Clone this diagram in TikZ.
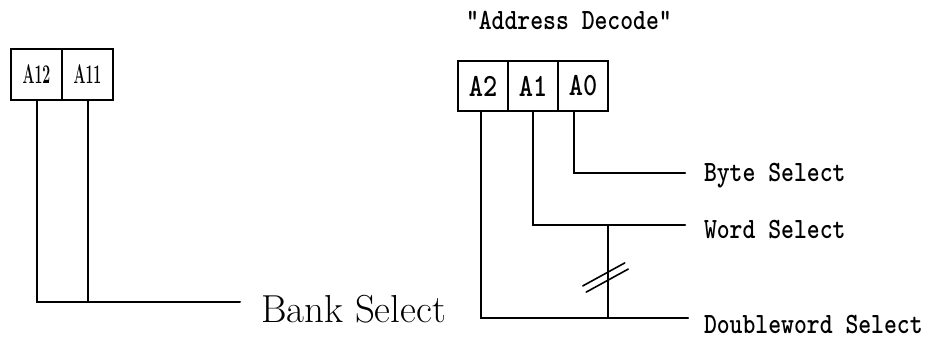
\documentclass[tikz,border=0pt]{standalone}
\usepackage{tikz}
\usetikzlibrary{positioning}
\newcommand\tallmono[1]{\scalebox{1}[1.2]{#1}}

\begin{document}
\begin{tikzpicture}[x=1pt,y=-1pt,line width=2pt,line cap=round,
  bitbox/.style={draw,outer sep=0pt,inner sep=0pt,minimum width=#1,minimum height=#1},
  oldbit/.style={bitbox=51pt,font=\fontsize{27}{27}\selectfont\bfseries},
  newbit/.style={bitbox=50pt,font=\fontsize{27}{27}\selectfont\ttfamily\bfseries},
  sig/.style={anchor=base west,inner sep=0pt,font=\fontsize{24.5}{24.5}\selectfont\ttfamily\bfseries}]
\useasboundingbox (0,0) rectangle (933,339);
\node[oldbit] (a12) at (36.5,74.5) {\scalebox{0.52}[1]{A12}};
\node[oldbit,right=0pt of a12] (a11) {\scalebox{0.52}[1]{A11}};
\coordinate (bankend) at (240,302);
\node[anchor=base west,inner sep=0pt,font=\fontsize{39}{39}\selectfont] (bank) at (260,322) {Bank Select};
\draw (a12.south) |- (bankend);
\draw (a11.south) -- (a11.south |- bankend);
\node[sig] (title) at (465,30) {\tallmono{"Address Decode"}};
\node[newbit] (a2) at (483,86) {\tallmono{A2}};
\node[newbit,right=0pt of a2] (a1) {\tallmono{A1}};
\node[newbit,right=0pt of a1] (a0) {\tallmono{A0}};
\coordinate (byteend) at (685,173);
\coordinate (wordend) at (685,225);
\coordinate (dwordend) at (688,318);
\coordinate (tap) at (608,225);
\node[sig] (byte) at (703,182) {\tallmono{Byte Select}};
\node[sig] (word) at (703,238) {\tallmono{Word Select}};
\node[sig] (dword) at (703,333) {\tallmono{Doubleword Select}};
\draw ([xshift=-9pt]a0.south) |- (byteend);
\draw (a1.south) |- (wordend);
\draw ([xshift=-2pt]a2.south) |- (dwordend);
\draw (tap) -- (tap |- dwordend);
\coordinate (cut) at (605.5,277.5);
\draw[line width=1.6pt] ([shift={(-22.7,8.4)}]cut) -- ([shift={(19.3,-14.6)}]cut);
\draw[line width=1.6pt] ([shift={(-19.3,14.6)}]cut) -- ([shift={(22.7,-8.4)}]cut);
\end{tikzpicture}
\end{document}
